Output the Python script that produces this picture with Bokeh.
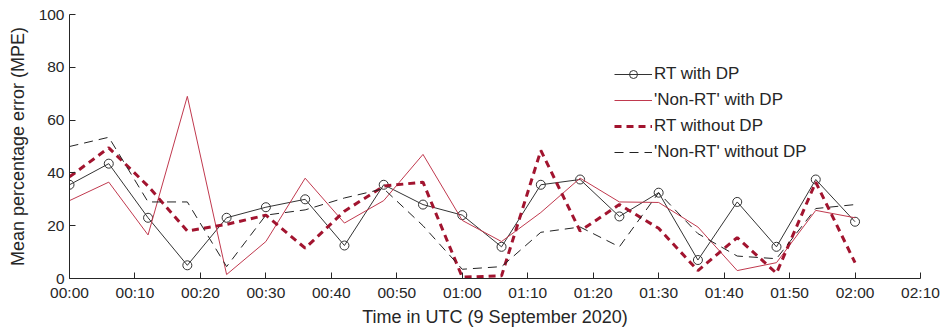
from bokeh.plotting import figure
from bokeh.models import FixedTicker, Legend, LegendItem, Range1d
from bokeh.embed import file_html
from bokeh.resources import INLINE

# minutes after 00:00 UTC
minutes = [0, 6, 12, 18, 24, 30, 36, 42, 48, 54, 60, 66, 72, 78, 84, 90, 96, 102, 108, 114, 120]

rt_with_dp = [35.5, 43.5, 23, 5, 23, 27, 30, 12.5, 35.5, 28, 24, 12, 35.5, 37.5, 23.5, 32.5, 7, 29, 12, 37.5, 21.5]
nonrt_with_dp = [29.5, 36.5, 16.5, 69, 1.5, 14, 38, 21, 29.5, 47, 22, 14, 25, 38, 29, 28.8, 19.5, 3, 6, 25.8, 23]
rt_without_dp = [38.5, 49.5, 35, 18, 20.5, 24, 11.5, 25.5, 35, 36.5, 0.5, 1, 48.5, 18, 28, 19, 3, 15.5, 2, 36.5, 6]
nonrt_without_dp = [50, 53.5, 29, 29, 4.5, 24, 26, 30.5, 34, 20, 3.5, 4.5, 17.5, 19.5, 12, 32.5, 17, 8.5, 7.5, 26.5, 28]

tick_minutes = [0, 10, 20, 30, 40, 50, 60, 70, 80, 90, 100, 110, 120, 130]
tick_labels = ["00:00", "00:10", "00:20", "00:30", "00:40", "00:50", "01:00",
               "01:10", "01:20", "01:30", "01:40", "01:50", "02:00", "02:10"]
y_ticks = [0, 20, 40, 60, 80, 100]

FONT = "Liberation Sans"
AX = "#262626"

p = figure(width=944, height=335, output_backend="svg", toolbar_location=None,
           x_range=Range1d(0, 130), y_range=Range1d(0, 100),
           min_border_left=69, min_border_right=24, min_border_top=14, min_border_bottom=57)
p.outline_line_color = None
p.grid.visible = False
p.background_fill_color = "white"

for ax in (p.xaxis[0], p.yaxis[0]):
    ax.axis_line_color = AX
    ax.major_tick_line_color = AX
    ax.minor_tick_line_color = None
    ax.major_tick_in = 6
    ax.major_tick_out = 0
    ax.major_label_text_font = FONT
    ax.major_label_text_font_size = "15.5px"
    ax.major_label_text_color = AX
    ax.axis_label_text_font = FONT
    ax.axis_label_text_font_size = "18px"
    ax.axis_label_text_font_style = "normal"
    ax.axis_label_text_color = AX

p.xaxis.ticker = FixedTicker(ticks=tick_minutes)
p.xaxis.major_label_overrides = {m: l for m, l in zip(tick_minutes, tick_labels)}
p.xaxis.axis_label = "Time in UTC (9 September 2020)"
p.xaxis.major_label_standoff = 5
p.xaxis.axis_label_standoff = 3
p.yaxis.ticker = FixedTicker(ticks=y_ticks)
p.yaxis.axis_label = "Mean percentage error (MPE)"
p.yaxis.major_label_standoff = 5
p.yaxis.axis_label_standoff = 8

r1 = p.line(minutes, rt_with_dp, line_color="#333333", line_width=1)
r1m = p.scatter(minutes, rt_with_dp, marker="circle", size=9, fill_color=None,
                line_color="#333333", line_width=1)
r2 = p.line(minutes, nonrt_with_dp, line_color="#C0394E", line_width=1)
r3 = p.line(minutes, rt_without_dp, line_color="#A2142F", line_width=3, line_dash="7 5")
r4 = p.line(minutes, nonrt_without_dp, line_color="#222222", line_width=1, line_dash="9 6")

legend = Legend(items=[
    LegendItem(label="RT with DP", renderers=[r1, r1m]),
    LegendItem(label="'Non-RT' with DP", renderers=[r2]),
    LegendItem(label="RT without DP", renderers=[r3]),
    LegendItem(label="'Non-RT' without DP", renderers=[r4]),
], location=(541, 112))
legend.background_fill_alpha = 0
legend.border_line_alpha = 0
legend.label_text_font = FONT
legend.label_text_font_size = "17px"
legend.label_text_color = AX
legend.glyph_width = 38
legend.glyph_height = 20
legend.spacing = 6
legend.label_standoff = 2
legend.padding = 4
p.add_layout(legend, "center")

open("out.html", "w").write(file_html(p, INLINE))
